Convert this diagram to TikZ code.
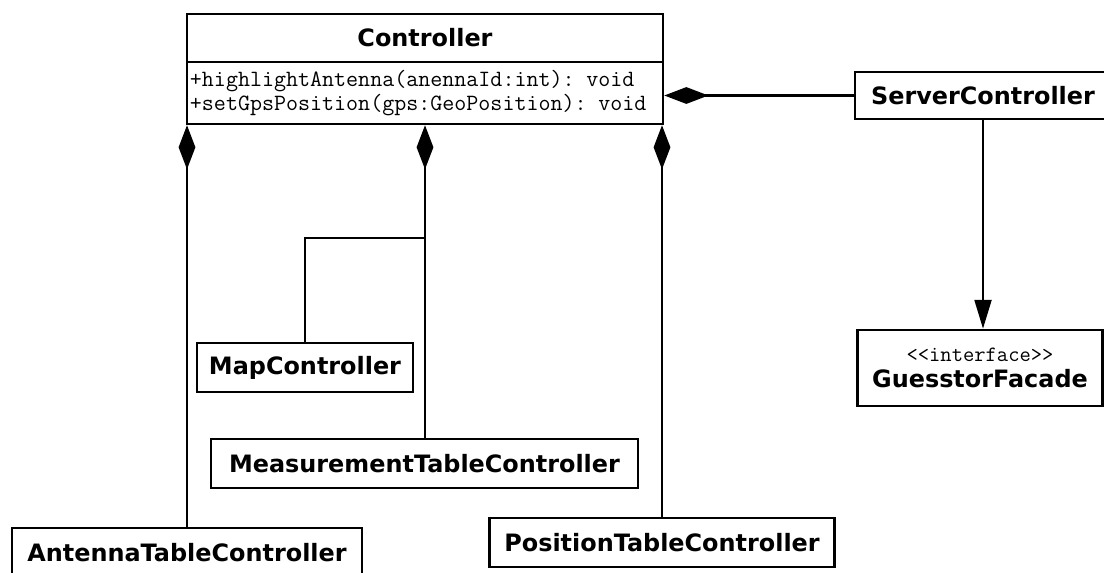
\documentclass[tikz,border=0pt]{standalone}
\usepackage{fontspec}
\setsansfont{DejaVu Sans}
\usepackage{tikz}
\usetikzlibrary{arrows.meta,positioning,calc}

\begin{document}
\begin{tikzpicture}[
    x=0.025cm, y=-0.025cm,
    line width=1.8pt,
    umlclass/.style={
        rectangle,
        draw=black,
        fill=white,
        minimum height=1.225cm,
        inner sep=2pt,
        font=\fontsize{17}{20}\selectfont\sffamily\bfseries,
        align=center
    },
    umlmethods/.style={
        rectangle,
        draw=black,
        fill=white,
        minimum height=1.55cm,
        inner xsep=2pt,
        text width=11.75cm,
        font=\fontsize{16.6}{17.5}\selectfont\ttfamily,
        align=left
    },
    comp/.style={-{Diamond[length=1.1cm,width=0.42cm]}},
    dep/.style={-{Triangle[length=0.72cm,width=0.42cm]}}
]

% white page, fixes the margins
\clip (0,0) rectangle (1104,572);
\fill[white] (0,0) rectangle (1104,572);

% Controller: name compartment and operations compartment
\node[umlclass, minimum width=11.9cm, minimum height=1.2cm] (ctrl) at (425,38) {Controller};
\node[umlmethods, minimum width=11.9cm] (ctrlm) at (425,93)
    {+highlightAntenna(anennaId:int): void\\+setGpsPosition(gps:GeoPosition): void};

% --- right side ---
\node[umlclass, minimum width=6.4cm, minimum height=1.175cm] (sc) at (983,95.5) {ServerController};
\node[umlclass, minimum width=6.125cm, minimum height=1.9cm] (gf) at (980,368)
    {{\fontsize{15.6}{15}\selectfont\mdseries\ttfamily <<interface>>}\\[-1pt]GuesstorFacade};

% --- parts of the Controller ---
\node[umlclass, minimum width=5.4cm] (map) at (305,367.5) {MapController};
\node[umlclass, minimum width=10.675cm] (mtc) at (424.5,463.5) {MeasurementTableController};
\node[umlclass, minimum width=8.75cm] (atc) at (187,552.5) {AntennaTableController};
\node[umlclass, minimum width=8.625cm] (ptc) at (662,542.5) {PositionTableController};

% branch point of the middle composition
\coordinate (junc) at (425,238);

% Compositions (diamond on the Controller side)
\draw[comp] (sc.west) -- (sc.west -| ctrlm.east);
\draw[comp] (atc.north) -- (atc.north |- ctrlm.south);
\draw[comp] (junc) -- (junc |- ctrlm.south);
\draw (mtc.north -| junc) -- (junc);
\draw (map.north) |- (junc);
\draw[comp] (ptc.north) -- (ptc.north |- ctrlm.south);

% ServerController uses the facade
\draw[dep] (sc.south) -- (sc.south |- gf.north);

\end{tikzpicture}
\end{document}
